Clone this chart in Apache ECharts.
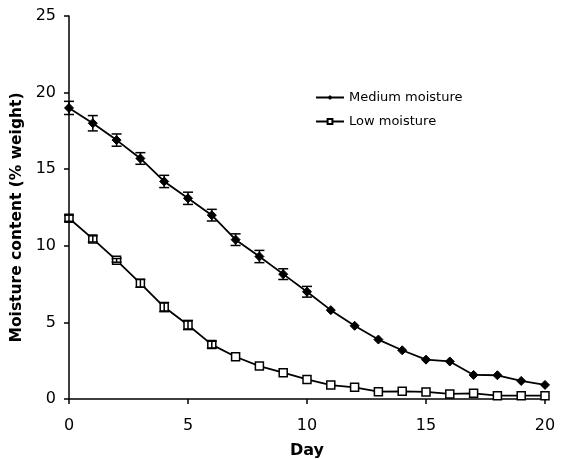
<!DOCTYPE html>
<html><head><meta charset="utf-8">
<script src="https://cdn.jsdelivr.net/npm/echarts@6/dist/echarts.min.js"></script>
<style>html,body{margin:0;padding:0;background:#fff}#c{width:565px;height:459px}</style>
</head><body><div id="c"></div>
<script>
const days = [0,1,2,3,4,5,6,7,8,9,10,11,12,13,14,15,16,17,18,19,20];
const mediumValues = [19.0,18.0,16.9,15.7,14.2,13.1,12.0,10.4,9.3,8.15,7.0,5.8,4.78,3.88,3.18,2.57,2.45,1.57,1.55,1.18,0.92];
const mediumErr    = [0.43,0.5,0.4,0.38,0.4,0.4,0.38,0.38,0.4,0.35,0.35,0,0,0,0,0,0,0,0,0,0];
const lowValues    = [11.8,10.45,9.05,7.55,6.0,4.83,3.55,2.76,2.15,1.72,1.28,0.91,0.76,0.48,0.5,0.46,0.33,0.37,0.22,0.22,0.22];
const lowErr       = [0.2,0.2,0.12,0.25,0.3,0.3,0.22,0,0,0,0,0,0,0,0,0,0,0,0,0,0];
const yTicks = [0,5,10,15,20,25];
const xTicks = [0,5,10,15,20];

function errData(vals, errs){ return days.map((d,i)=>[d, vals[i]-errs[i], vals[i]+errs[i]]); }
function errRender(params, api){
  const x = api.value(0), lo = api.value(1), hi = api.value(2);
  if (hi - lo <= 0) return null;
  const p1 = api.coord([x, hi]), p2 = api.coord([x, lo]);
  const w = 5;
  const st = {stroke:'#000', lineWidth:1.5};
  return {type:'group', children:[
    {type:'line', shape:{x1:p1[0],y1:p1[1],x2:p2[0],y2:p2[1]}, style:st},
    {type:'line', shape:{x1:p1[0]-w,y1:p1[1],x2:p1[0]+w,y2:p1[1]}, style:st},
    {type:'line', shape:{x1:p2[0]-w,y1:p2[1],x2:p2[0]+w,y2:p2[1]}, style:st}
  ]};
}
const font = 'DejaVu Sans, Verdana, sans-serif';
const chart = echarts.init(document.getElementById('c'), null, {renderer:'canvas'});
chart.setOption({
  animation:false,
  backgroundColor:'#fff',
  grid:{left:69, top:16, width:476, height:383, containLabel:false, outerBoundsMode:'none'},
  legend:{
    left:310, top:86, orient:'vertical', itemGap:11, itemWidth:28, itemHeight:6,
    textStyle:{fontFamily:font, fontSize:13, color:'#000'},
    data:['Medium moisture','Low moisture']
  },
  xAxis:{
    type:'value', min:0, max:20, interval:5,
    name:'Day', nameLocation:'middle', nameGap:44,
    nameTextStyle:{fontFamily:font, fontSize:16, fontWeight:'bold', color:'#000'},
    axisLine:{lineStyle:{color:'#000', width:1.5}},
    axisTick:{show:true, inside:false, length:5, lineStyle:{color:'#000', width:1.5}},
    axisLabel:{fontFamily:font, fontSize:16, color:'#000', margin:19, formatter:v=>xTicks.includes(v)?String(v):''},
    splitLine:{show:false}
  },
  yAxis:{
    type:'value', min:0, max:25, interval:5,
    name:'Moisture content (% weight)', nameLocation:'middle', nameGap:38,
    nameTextStyle:{fontFamily:font, fontSize:15.5, fontWeight:'bold', color:'#000', padding:[0,20,0,0]},
    axisLine:{show:true, lineStyle:{color:'#000', width:1.5}},
    axisTick:{show:true, inside:false, length:5, lineStyle:{color:'#000', width:1.5}},
    axisLabel:{fontFamily:font, fontSize:16, color:'#000', margin:13, formatter:v=>yTicks.includes(v)?String(v):''},
    splitLine:{show:false}
  },
  series:[
    {name:'Medium moisture', type:'line', data:days.map((d,i)=>[d,mediumValues[i]]),
     symbol:'diamond', symbolSize:9, showAllSymbol:true,
     lineStyle:{color:'#000', width:1.8}, itemStyle:{color:'#000', borderColor:'#000'}, z:3},
    {name:'Low moisture', type:'line', data:days.map((d,i)=>[d,lowValues[i]]),
     symbol:'rect', symbolSize:8, showAllSymbol:true,
     lineStyle:{color:'#000', width:1.8}, itemStyle:{color:'#fff', borderColor:'#000', borderWidth:1.5}, z:3},
    {type:'custom', renderItem:errRender, data:errData(mediumValues, mediumErr), z:4, silent:true},
    {type:'custom', renderItem:errRender, data:errData(lowValues, lowErr), z:4, silent:true}
  ]
});
</script></body></html>
